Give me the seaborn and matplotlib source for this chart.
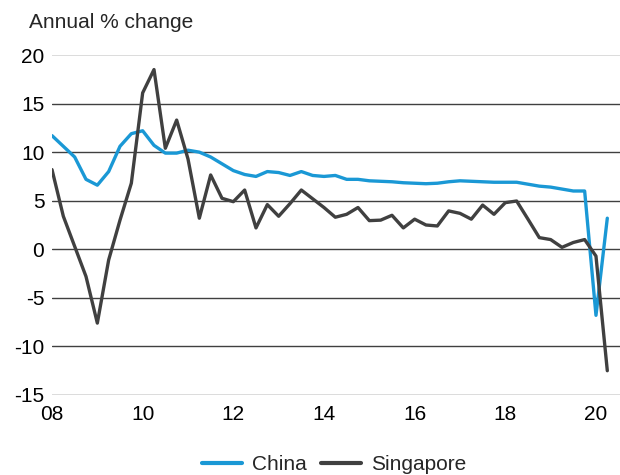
import numpy as np
import pandas as pd
import matplotlib
matplotlib.use("Agg")
import matplotlib.pyplot as plt
import seaborn as sns

# Quarterly data, 2008 Q1 .. 2020 Q2
start_year = 2008
china = [11.7, 10.6, 9.5, 7.2, 6.6, 8.0, 10.6, 11.9, 12.2, 10.7, 9.9, 9.9,
         10.2, 10.0, 9.5, 8.8, 8.1, 7.7, 7.5, 8.0, 7.9, 7.6, 8.0, 7.6,
         7.5, 7.6, 7.2, 7.2, 7.05, 7.0, 6.95, 6.85, 6.8, 6.75, 6.8, 6.95,
         7.05, 7.0, 6.95, 6.9, 6.9, 6.9, 6.7, 6.5, 6.4, 6.2, 6.0, 6.0,
         -6.8, 3.2]
singapore = [8.2, 3.4, 0.3, -2.8, -7.6, -1.1, 3.0, 6.8, 16.1, 18.5, 10.4, 13.3,
             9.3, 3.2, 7.65, 5.25, 4.9, 6.1, 2.2, 4.6, 3.4, 4.7, 6.1, 5.2,
             4.3, 3.3, 3.6, 4.3, 2.95, 3.0, 3.5, 2.2, 3.1, 2.5, 2.4, 3.95,
             3.7, 3.1, 4.55, 3.6, 4.8, 4.97, 3.1, 1.2, 1.0, 0.2, 0.7, 1.0,
             -0.7, -12.5]
series_names = ["China", "Singapore"]
colors = {"China": "#1a98d5", "Singapore": "#404040"}
yticks = [-15, -10, -5, 0, 5, 10, 15, 20]
xtick_years = [2008, 2010, 2012, 2014, 2016, 2018, 2020]
xtick_labels = ["08", "10", "12", "14", "16", "18", "20"]
y_title = "Annual % change"

n = len(china)
t = [start_year + i / 4 for i in range(n)]
df = pd.DataFrame({
    "t": t * 2,
    "value": china + singapore,
    "series": ["China"] * n + ["Singapore"] * n,
})

sns.set_theme(style="white")
plt.rcParams["font.family"] = ["Liberation Sans", "DejaVu Sans"]

FS = 15

fig = plt.figure(figsize=(6.2, 4.75), dpi=100)
ax = fig.add_axes([52 / 620, 1 - 395 / 475, 1 - 52 / 620, (395 - 55) / 475])

sns.lineplot(data=df, x="t", y="value", hue="series", palette=colors,
             hue_order=series_names, linewidth=2.4, ax=ax, legend=False,
             zorder=3)

ax.set_xlim(2008, 2020.53)
ax.set_ylim(-15, 20)
ax.set_yticks(yticks)
ax.set_yticklabels([str(v) for v in yticks])
ax.set_xticks(xtick_years)
ax.set_xticklabels(xtick_labels)
ax.tick_params(axis="both", length=0, labelsize=FS, colors="#000000")
ax.tick_params(axis="y", pad=5.5)
ax.tick_params(axis="x", pad=7)
ax.set_xlabel("")
ax.set_ylabel("")

for s in ax.spines.values():
    s.set_visible(False)

for v in yticks:
    if v in (20, -15):
        ax.axhline(v, color="#d9d9d9", linewidth=1.3, zorder=1)
    else:
        ax.axhline(v, color="#404040", linewidth=1.0, zorder=1)

fig.text(29 / 620, 1 - 22.5 / 475, y_title, fontsize=FS, va="center", ha="left")

handles = [plt.Line2D([], [], color=colors[s], linewidth=3) for s in series_names]
fig.legend(handles, series_names, loc="center", bbox_to_anchor=(334 / 620, 1 - 465 / 475),
           ncol=2, frameon=False, fontsize=FS, handlelength=1.92,
           handletextpad=0.45, columnspacing=0.72)

fig.savefig("out.png", dpi=100)
